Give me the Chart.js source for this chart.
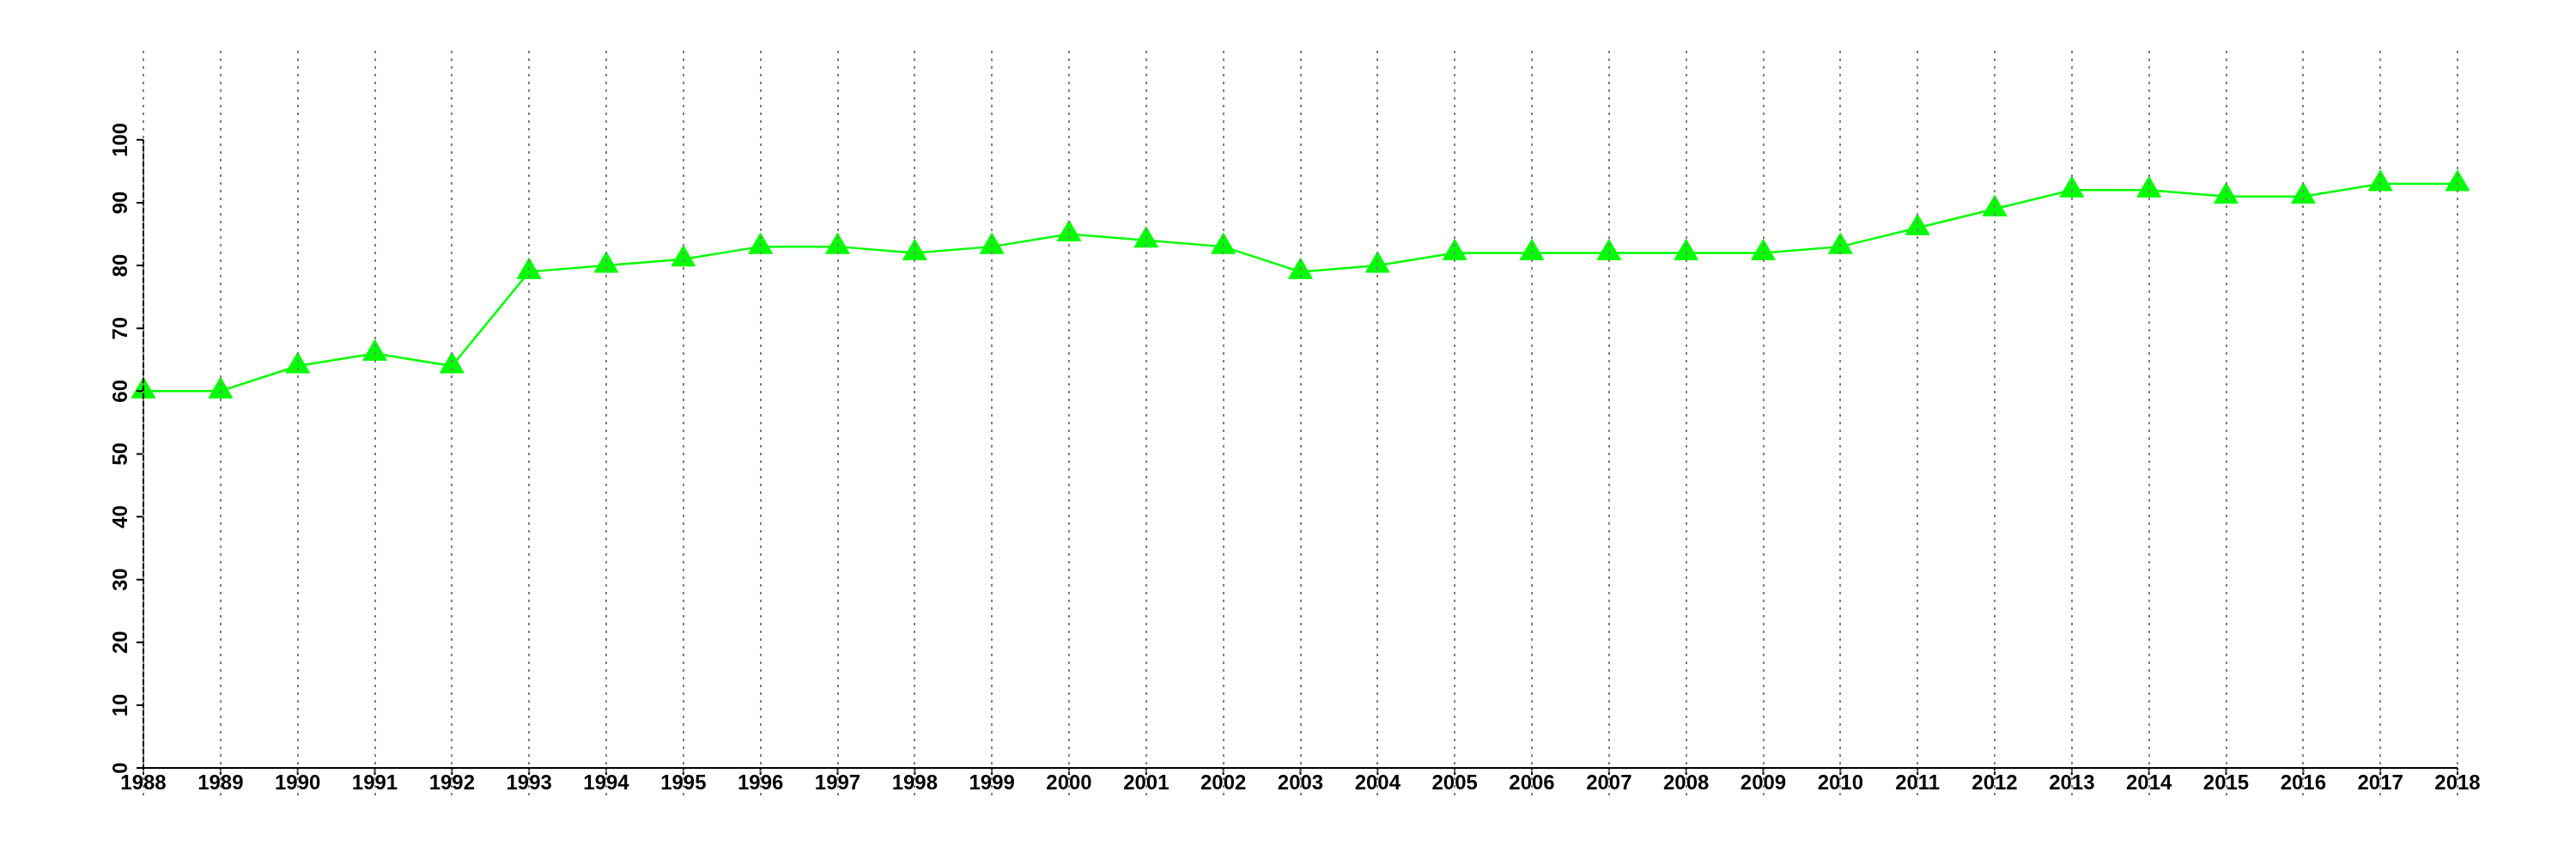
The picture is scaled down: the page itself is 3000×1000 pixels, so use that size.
<!DOCTYPE html>
<html>
<head>
<meta charset="utf-8">
<script src="https://cdn.jsdelivr.net/npm/chart.js@4.4.0/dist/chart.umd.min.js"></script>
<style>
  html, body { margin: 0; padding: 0; background: #fff; }
  #wrap { width: 3000px; height: 1000px; }
</style>
</head>
<body>
<div id="wrap"><canvas id="chart" width="3000" height="1000"></canvas></div>
<script>
// data
const years = ['1988', '1989', '1990', '1991', '1992', '1993', '1994', '1995', '1996', '1997',
               '1998', '1999', '2000', '2001', '2002', '2003', '2004', '2005', '2006', '2007',
               '2008', '2009', '2010', '2011', '2012', '2013', '2014', '2015', '2016', '2017', '2018'];
const values = [60, 60, 64, 66, 64, 79, 80, 81, 83, 83,
                82, 83, 85, 84, 83, 79, 80, 82, 82, 82,
                82, 82, 83, 86, 89, 92, 92, 91, 91, 93, 93];
const yTicks = [0, 10, 20, 30, 40, 50, 60, 70, 80, 90, 100];

// R-style axes: lines only between first and last tick, dotted verticals on top
const rAxes = {
    id: 'rAxes',
    afterDraw(chart) {
        const ctx = chart.ctx;
        const area = chart.chartArea;
        const x = chart.scales.x;
        const y = chart.scales.y;
        const y0 = y.getPixelForValue(0);
        const x0 = x.getPixelForValue(0);
        const x1 = x.getPixelForValue(years.length - 1);
        ctx.save();

        // black axes + tick marks
        ctx.strokeStyle = '#000';
        ctx.lineWidth = 2;
        ctx.beginPath();
        ctx.moveTo(x0, y0);
        ctx.lineTo(x1, y0);
        years.forEach((yr, i) => {
            const px = x.getPixelForValue(i);
            ctx.moveTo(px, y0);
            ctx.lineTo(px, y0 + 8);
        });
        ctx.moveTo(x0, y0);
        ctx.lineTo(x0, y.getPixelForValue(yTicks[yTicks.length - 1]));
        yTicks.forEach(v => {
            const py = y.getPixelForValue(v);
            ctx.moveTo(x0, py);
            ctx.lineTo(x0 - 8, py);
        });
        ctx.stroke();

        // dotted vertical grid
        ctx.strokeStyle = '#7f7f7f';
        ctx.lineWidth = 2;
        ctx.setLineDash([3, 6]);
        years.forEach((yr, i) => {
            const px = Math.round(x.getPixelForValue(i));
            ctx.beginPath();
            ctx.moveTo(px, area.top);
            ctx.lineTo(px, y0 + 33);
            ctx.stroke();
        });
        ctx.restore();
    }
};

const ctx = document.getElementById('chart').getContext('2d');
const chart = new Chart(ctx, {
    type: 'line',
    data: {
        labels: years,
        datasets: [{
            data: values,
            borderColor: '#00ff00',
            backgroundColor: '#00ff00',
            borderWidth: 2.5,
            pointStyle: 'triangle',
            pointRadius: 16,
            pointHoverRadius: 16,
            pointBorderWidth: 1,
            pointBackgroundColor: '#00ff00',
            pointBorderColor: '#00ff00',
            tension: 0,
            clip: false
        }]
    },
    options: {
        responsive: false,
        devicePixelRatio: 1,
        animation: false,
        events: [],
        layout: { padding: { top: 59, right: 138, bottom: 0, left: 0 } },
        plugins: {
            legend: { display: false },
            tooltip: { enabled: false }
        },
        scales: {
            x: {
                type: 'category',
                offset: false,
                grid: { display: false, drawTicks: false },
                border: { display: false },
                ticks: {
                    color: '#000',
                    font: { family: 'Liberation Sans', size: 24, weight: 'bold' },
                    padding: 4,
                    maxRotation: 0,
                    minRotation: 0,
                    autoSkip: false
                },
                afterFit(scale) { scale.height = 106; }
            },
            y: {
                min: 0,
                max: 114.2,
                grid: { display: false, drawTicks: false },
                border: { display: false },
                afterBuildTicks(scale) {
                    scale.ticks = yTicks.map(v => ({ value: v }));
                },
                ticks: {
                    color: '#000',
                    font: { family: 'Liberation Sans', size: 24, weight: 'bold' },
                    minRotation: 90,
                    maxRotation: 90,
                    crossAlign: 'center',
                    padding: 6
                },
                afterFit(scale) { scale.width = 167; }
            }
        }
    },
    plugins: [rAxes]
});
</script>
</body>
</html>
